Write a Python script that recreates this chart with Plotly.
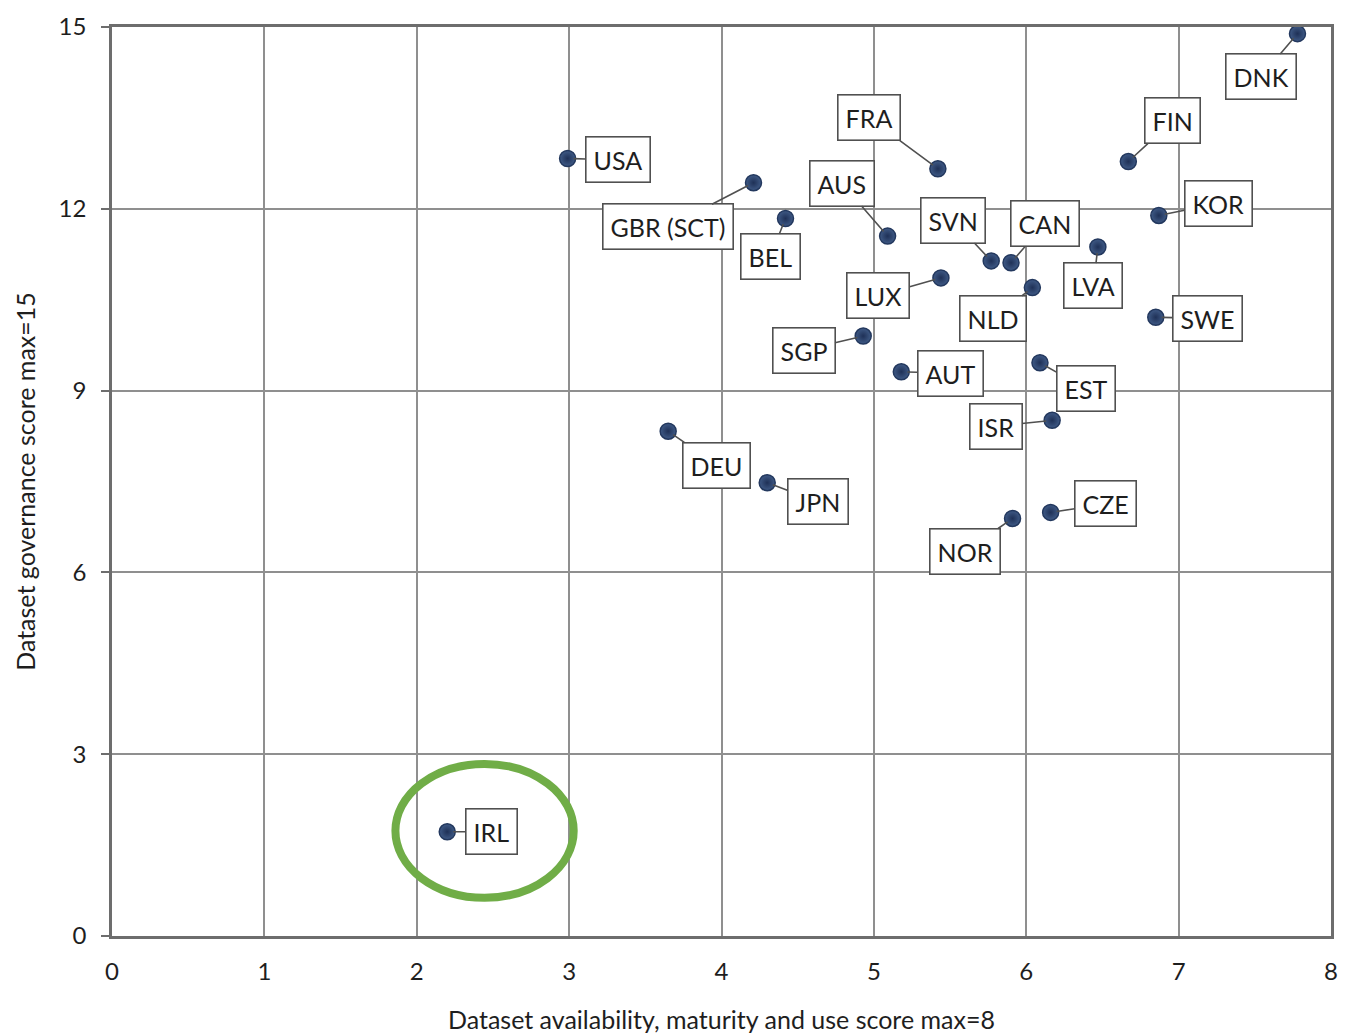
import plotly.graph_objects as go

countries = ["DNK", "FIN", "FRA", "USA", "GBR (SCT)", "BEL", "AUS", "KOR", "SVN", "CAN",
             "LVA", "LUX", "NLD", "SWE", "SGP", "AUT", "EST", "ISR", "DEU", "JPN",
             "CZE", "NOR", "IRL"]
availability = [7.78, 6.67, 5.42, 2.99, 4.21, 4.42, 5.09, 6.87, 5.77, 5.90,
                6.47, 5.44, 6.04, 6.85, 4.93, 5.18, 6.09, 6.17, 3.65, 4.30,
                6.16, 5.91, 2.20]
governance = [14.89, 12.78, 12.66, 12.83, 12.43, 11.84, 11.55, 11.89, 11.14, 11.11,
              11.37, 10.86, 10.70, 10.21, 9.90, 9.31, 9.46, 8.51, 8.33, 7.48,
              6.99, 6.89, 1.72]
# label box centres (data units)
label_x = [7.54, 6.96, 4.97, 3.32, 3.65, 4.32, 4.79, 7.26, 5.52, 6.12,
           6.44, 5.03, 5.78, 7.19, 4.54, 5.50, 6.39, 5.80, 3.97, 4.63,
           6.52, 5.60, 2.49]
label_y = [14.18, 13.45, 13.50, 12.81, 11.70, 11.21, 12.42, 12.09, 11.81, 11.75,
           10.73, 10.57, 10.19, 10.19, 9.67, 9.29, 9.03, 8.41, 7.77, 7.17,
           7.13, 6.35, 1.72]
x_ticks = [0, 1, 2, 3, 4, 5, 6, 7, 8]
y_ticks = [0, 3, 6, 9, 12, 15]

FONT = "Lato, Open Sans, sans-serif"

fig = go.Figure()
fig.add_trace(go.Scatter(
    x=availability, y=governance, mode="markers",
    marker=dict(size=16, color="#3f5a86",
                line=dict(color="#23385e", width=1.5),
                gradient=dict(type="radial", color="#1f3157")),
    hoverinfo="text", text=countries, showlegend=False,
))

for c, px, py, lx, ly in zip(countries, availability, governance, label_x, label_y):
    fig.add_annotation(
        x=px, y=py, ax=lx, ay=ly, axref="x", ayref="y", xref="x", yref="y",
        text=c, showarrow=True, arrowhead=0, arrowwidth=1.6, arrowcolor="#505050",
        standoff=6,
        font=dict(family=FONT, size=25, color="#1e1e1e"),
        bordercolor="#505050", borderwidth=1.6, borderpad=7, bgcolor="white",
    )

# green highlight ellipse around IRL
fig.add_shape(type="circle", xref="x", yref="y",
              x0=1.86, x1=3.03, y0=0.63, y1=2.84,
              line=dict(color="#70AD47", width=8))

fig.update_xaxes(
    range=[0, 8], tickvals=x_ticks, showgrid=True, gridcolor="#8f8f8f", gridwidth=2,
    zeroline=False, showline=True, linecolor="#6d6d6d", linewidth=2.5, mirror=True,
    ticks="", ticklabelstandoff=12, automargin=False,
    tickfont=dict(family=FONT, size=24, color="#1e1e1e"),
    title=dict(text="Dataset availability, maturity and use score max=8",
               font=dict(family=FONT, size=25, color="#1e1e1e"), standoff=28),
)
fig.update_yaxes(
    range=[0, 15], tickvals=y_ticks, showgrid=True, gridcolor="#8f8f8f", gridwidth=2,
    zeroline=False, showline=True, linecolor="#6d6d6d", linewidth=2.5, mirror=True,
    ticks="outside", ticklen=8, tickcolor="#6d6d6d", tickwidth=2, automargin=False,
    ticklabelstandoff=10, ticklabeloverflow="allow",
    tickfont=dict(family=FONT, size=24, color="#1e1e1e"),
    title=dict(text="Dataset governance score max=15",
               font=dict(family=FONT, size=25, color="#1e1e1e"), standoff=16),
)

fig.update_layout(
    width=1358, height=1033,
    margin=dict(l=104, r=35, t=19, b=105),
    paper_bgcolor="white", plot_bgcolor="white",
)

fig.write_html("out.html")
